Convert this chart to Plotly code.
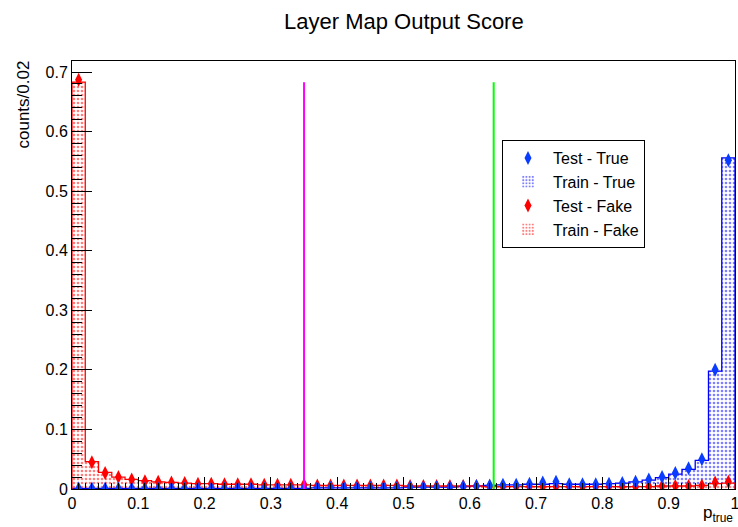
import plotly.graph_objects as go

# ---- data ----
bin_edges = [round(0.02 * i, 2) for i in range(51)]
bin_centers = [round(0.01 + 0.02 * i, 2) for i in range(50)]

train_fake = [0.683, 0.046, 0.028, 0.020, 0.016, 0.014, 0.012, 0.011, 0.010, 0.009,
              0.009, 0.008, 0.008, 0.008, 0.007, 0.007, 0.007, 0.007, 0.006, 0.006,
              0.006, 0.006, 0.006, 0.006, 0.006, 0.005, 0.005, 0.005, 0.005, 0.005,
              0.005, 0.004, 0.004, 0.004, 0.004, 0.004, 0.004, 0.004, 0.004, 0.004,
              0.004, 0.004, 0.004, 0.004, 0.005, 0.005, 0.005, 0.006, 0.009, 0.010]
test_fake = [0.687, 0.045, 0.027, 0.020, 0.016, 0.013, 0.012, 0.011, 0.010, 0.009,
             0.009, 0.008, 0.008, 0.008, 0.007, 0.007, 0.007, 0.007, 0.006, 0.006,
             0.006, 0.006, 0.006, 0.006, 0.006, 0.005, 0.005, 0.005, 0.005, 0.005,
             0.005, 0.004, 0.004, 0.004, 0.004, 0.004, 0.004, 0.004, 0.004, 0.004,
             0.004, 0.004, 0.004, 0.004, 0.005, 0.005, 0.005, 0.006, 0.011, 0.012]
train_true = [0.001, 0.001, 0.001, 0.001, 0.001, 0.001, 0.001, 0.001, 0.001, 0.001,
              0.001, 0.001, 0.001, 0.001, 0.001, 0.001, 0.001, 0.001, 0.002, 0.002,
              0.002, 0.002, 0.002, 0.002, 0.002, 0.003, 0.003, 0.003, 0.003, 0.004,
              0.005, 0.006, 0.007, 0.007, 0.008, 0.008, 0.009, 0.008, 0.008, 0.008,
              0.009, 0.010, 0.012, 0.015, 0.019, 0.025, 0.033, 0.048, 0.198, 0.556]
test_true = [0.001, 0.001, 0.001, 0.001, 0.001, 0.001, 0.001, 0.001, 0.001, 0.001,
             0.001, 0.001, 0.001, 0.001, 0.001, 0.001, 0.001, 0.001, 0.002, 0.002,
             0.002, 0.002, 0.002, 0.002, 0.002, 0.003, 0.003, 0.003, 0.003, 0.004,
             0.005, 0.006, 0.007, 0.007, 0.009, 0.011, 0.012, 0.008, 0.008, 0.008,
             0.009, 0.010, 0.012, 0.016, 0.020, 0.027, 0.035, 0.050, 0.200, 0.552]
cut_loose = 0.35
cut_tight = 0.636
cut_line_height = 0.683

x_tick_vals = [0, 0.1, 0.2, 0.3, 0.4, 0.5, 0.6, 0.7, 0.8, 0.9, 1]
x_tick_text = ["0", "0.1", "0.2", "0.3", "0.4", "0.5", "0.6", "0.7", "0.8", "0.9", "1"]
y_tick_vals = [0, 0.1, 0.2, 0.3, 0.4, 0.5, 0.6, 0.7]
y_tick_text = ["0", "0.1", "0.2", "0.3", "0.4", "0.5", "0.6", "0.7"]

FONT = "Liberation Sans, Arial, Helvetica, sans-serif"
RED = "#ff0000"
BLUE = "#0000ff"
MBLUE = "#0a3cff"


def step_xy(values):
    xs = [bin_edges[0]] + list(bin_edges)
    ys = [0] + list(values) + [0]
    return xs, ys


fig = go.Figure()

# Train - True (filled pattern)
fig.add_trace(go.Bar(
    x=bin_centers, y=train_true, width=0.02, name="Train - True",
    marker=dict(color="white", line=dict(width=0),
                pattern=dict(shape=".", fgcolor=BLUE, bgcolor="white", size=4, solidity=0.35)),
    legendrank=2,
))
xs, ys = step_xy(train_true)
fig.add_trace(go.Scatter(x=xs, y=ys, mode="lines", line=dict(color=BLUE, width=1.3, shape="hv"),
                         showlegend=False, hoverinfo="skip"))

# Train - Fake
fig.add_trace(go.Bar(
    x=bin_centers, y=train_fake, width=0.02, name="Train - Fake",
    marker=dict(color="white", line=dict(width=0),
                pattern=dict(shape=".", fgcolor=RED, bgcolor="white", size=4, solidity=0.35)),
    legendrank=4,
))
xs, ys = step_xy(train_fake)
fig.add_trace(go.Scatter(x=xs, y=ys, mode="lines", line=dict(color=RED, width=1.3, shape="hv"),
                         showlegend=False, hoverinfo="skip"))

# Test markers
fig.add_trace(go.Scatter(
    x=bin_centers, y=test_fake, mode="markers", name="Test - Fake",
    marker=dict(symbol="diamond-tall", size=10, color=RED), legendrank=3,
))
fig.add_trace(go.Scatter(
    x=bin_centers, y=test_true, mode="markers", name="Test - True",
    marker=dict(symbol="diamond-tall", size=10, color=MBLUE), legendrank=1,
))

# cut lines
fig.add_shape(type="line", xref="x", yref="y", x0=cut_loose, x1=cut_loose, y0=0, y1=cut_line_height,
              line=dict(color="#ff00ff", width=2))
fig.add_shape(type="line", xref="x", yref="y", x0=cut_tight, x1=cut_tight, y0=0, y1=cut_line_height,
              line=dict(color="#00ff00", width=2))

fig.update_layout(
    width=738, height=527,
    margin=dict(l=72, r=3, t=61, b=38, autoexpand=False),
    paper_bgcolor="white", plot_bgcolor="white",
    barmode="overlay", bargap=0,
    font=dict(family=FONT, size=16, color="black"),
    showlegend=True,
    legend=dict(x=0.6486, y=0.8154, xanchor="left", yanchor="top",
                bgcolor="white", bordercolor="black", borderwidth=1,
                font=dict(size=16), tracegroupgap=0, itemwidth=40),
    xaxis=dict(range=[0, 1], tickvals=x_tick_vals, ticktext=x_tick_text,
               ticks="inside", ticklen=12, tickcolor="black", tickwidth=1,
               ticklabeloverflow="allow",
               minor=dict(dtick=0.01, ticks="inside", ticklen=6, tickcolor="black"),
               showgrid=False, zeroline=False, showline=True, linecolor="black", linewidth=1,
               mirror=True, tickfont=dict(size=16)),
    yaxis=dict(range=[0, 0.7185], tickvals=y_tick_vals, ticktext=y_tick_text,
               ticks="inside", ticklen=20, tickcolor="black", tickwidth=1,
               ticklabeloverflow="allow",
               minor=dict(dtick=0.02, ticks="inside", ticklen=10, tickcolor="black"),
               showgrid=False, zeroline=False, showline=True, linecolor="black", linewidth=1,
               mirror=True, tickfont=dict(size=16)),
    annotations=[
        dict(text="Layer Map Output Score", xref="paper", yref="paper", x=0.5, y=1,
             yshift=54, xanchor="center", yanchor="top", showarrow=False,
             font=dict(size=22)),
        dict(text="counts/0.02", xref="paper", yref="paper", x=0, xshift=-61, y=1, yshift=2,
             xanchor="left", yanchor="top", textangle=-90, showarrow=False,
             font=dict(size=17)),
        dict(text="p<sub>true</sub>", xref="paper", yref="paper", x=1, y=0, yshift=-38,
             xanchor="right", yanchor="bottom", showarrow=False, font=dict(size=17)),
    ],
)

# remove the default 8px page margin so the 738x527 figure fills the window exactly
fig.write_html("out.html", config={"displayModeBar": False},
               post_script="document.body.style.margin='0';document.body.style.overflow='hidden';")
